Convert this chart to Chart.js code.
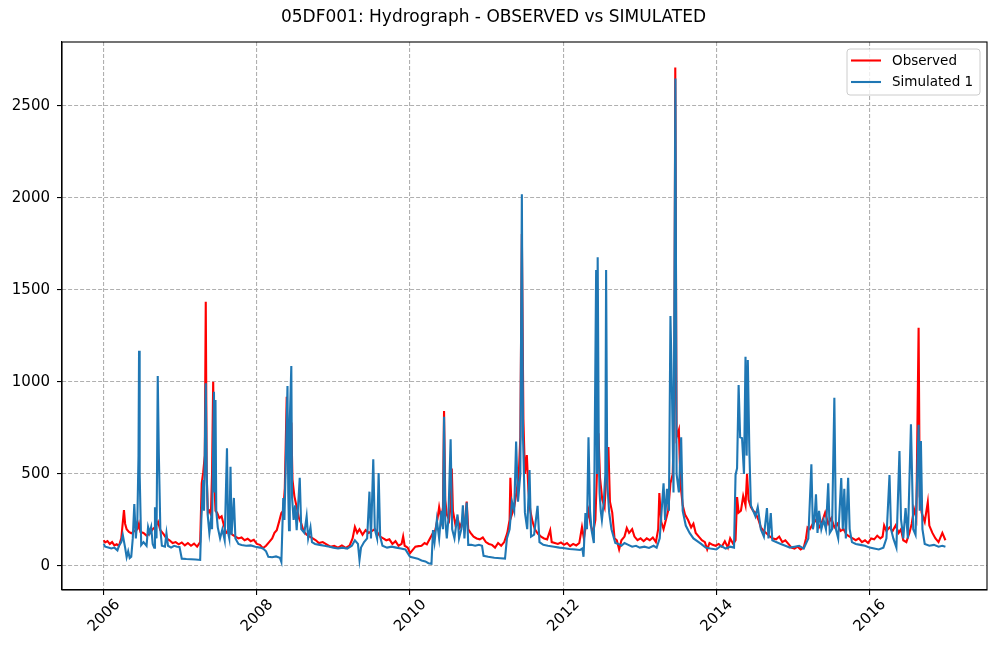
<!DOCTYPE html>
<html>
<head>
<meta charset="utf-8">
<script src="https://cdn.jsdelivr.net/npm/chart.js@4.4.1/dist/chart.umd.min.js"></script>
<style>
  html, body { margin: 0; padding: 0; background: #fff; }
  #wrap { width: 996px; height: 649px; }
</style>
</head>
<body>
<div id="wrap"><canvas id="c" width="996" height="649"></canvas></div>
<script>
// ---- Data (decimal years, flow values) ----
const chartTitle = "05DF001: Hydrograph - OBSERVED vs SIMULATED";
const seriesNames = ["Observed", "Simulated 1"];
const xTickYears = [2006, 2008, 2010, 2012, 2014, 2016];
const yTickValues = [0, 500, 1000, 1500, 2000, 2500];

const obsYears = [
2006.00,2006.02,2006.05,2006.08,2006.11,2006.14,2006.17,2006.20,2006.23,2006.265,2006.28,2006.30,2006.33,2006.36,2006.40,2006.44,2006.46,2006.48,2006.52,2006.56,2006.60,2006.64,2006.68,2006.71,2006.74,2006.78,2006.82,2006.86,2006.90,2006.94,2006.98,
2007.02,2007.06,2007.10,2007.14,2007.18,2007.22,2007.26,2007.28,2007.30,2007.32,2007.333,2007.345,2007.36,2007.38,2007.40,2007.415,2007.43,2007.445,2007.46,2007.48,2007.51,2007.54,2007.57,2007.60,2007.64,2007.68,2007.72,2007.76,2007.80,2007.84,2007.88,2007.92,2007.96,
2008.00,2008.04,2008.08,2008.12,2008.16,2008.20,2008.23,2008.26,2008.29,2008.32,2008.345,2008.365,2008.39,2008.41,2008.43,2008.45,2008.465,2008.49,2008.52,2008.55,2008.58,2008.61,2008.65,2008.69,2008.73,2008.77,2008.81,2008.86,2008.91,2008.96,
2009.01,2009.06,2009.11,2009.16,2009.21,2009.25,2009.28,2009.31,2009.34,2009.38,2009.42,2009.46,2009.50,2009.54,2009.57,2009.61,2009.65,2009.69,2009.73,2009.77,2009.81,2009.85,2009.89,2009.91,2009.93,2009.97,
2010.00,2010.03,2010.07,2010.11,2010.15,2010.19,2010.22,2010.26,2010.30,2010.33,2010.36,2010.38,2010.41,2010.43,2010.444,2010.46,2010.48,2010.51,2010.53,2010.545,2010.56,2010.59,2010.62,2010.65,2010.68,2010.71,2010.74,2010.76,2010.79,2010.83,2010.87,2010.91,2010.95,2010.99,
2011.03,2011.07,2011.11,2011.15,2011.19,2011.23,2011.27,2011.30,2011.31,2011.33,2011.36,2011.39,2011.42,2011.44,2011.46,2011.48,2011.50,2011.525,2011.545,2011.57,2011.60,2011.63,2011.67,2011.71,2011.75,2011.79,2011.83,2011.85,2011.89,2011.93,2011.97,
2012.01,2012.05,2012.09,2012.13,2012.17,2012.21,2012.245,2012.27,2012.30,2012.33,2012.36,2012.39,2012.42,2012.44,2012.46,2012.48,2012.51,2012.54,2012.57,2012.59,2012.61,2012.64,2012.67,2012.70,2012.73,2012.76,2012.80,2012.83,2012.86,2012.90,2012.93,2012.97,
2013.01,2013.05,2013.09,2013.13,2013.17,2013.21,2013.24,2013.255,2013.28,2013.31,2013.34,2013.37,2013.40,2013.43,2013.45,2013.463,2013.48,2013.51,2013.53,2013.56,2013.59,2013.63,2013.67,2013.70,2013.73,2013.77,2013.81,2013.85,2013.88,2013.91,2013.95,2013.99,
2014.03,2014.07,2014.11,2014.15,2014.18,2014.22,2014.25,2014.27,2014.29,2014.32,2014.35,2014.38,2014.40,2014.42,2014.45,2014.48,2014.51,2014.55,2014.58,2014.62,2014.66,2014.70,2014.74,2014.78,2014.82,2014.86,2014.90,2014.94,2014.98,
2015.02,2015.06,2015.10,2015.14,2015.17,2015.19,2015.22,2015.26,2015.30,2015.34,2015.38,2015.42,2015.46,2015.50,2015.54,2015.58,2015.62,2015.66,2015.70,2015.74,2015.78,2015.82,2015.86,2015.90,2015.94,2015.98,
2016.02,2016.06,2016.10,2016.14,2016.17,2016.19,2016.22,2016.26,2016.30,2016.34,2016.38,2016.41,2016.44,2016.48,2016.52,2016.55,2016.58,2016.61,2016.64,2016.655,2016.68,2016.72,2016.76,2016.78,2016.82,2016.86,2016.90,2016.95,2016.99
];
const obsFlow = [
140,128,135,120,130,112,118,110,150,304,230,200,185,178,190,200,230,185,180,165,175,200,215,240,195,175,150,140,125,130,118,
128,112,125,110,122,105,130,450,510,600,1436,500,290,300,280,500,1002,450,300,290,260,270,220,180,190,170,160,150,155,140,148,135,142,
120,115,97,110,130,150,180,195,240,288,300,424,920,500,600,780,470,380,320,260,230,190,170,160,150,140,125,130,118,105,
110,100,112,98,110,150,212,180,200,170,195,180,190,200,185,160,150,140,145,120,135,110,120,160,110,100,
70,85,105,108,110,125,118,150,180,195,260,320,250,320,842,360,280,250,330,530,300,230,260,210,240,200,350,200,180,160,150,145,155,130,
120,115,100,125,110,130,180,250,480,280,320,400,500,700,1804,800,500,603,413,300,240,200,175,160,150,145,195,130,125,120,128,
115,125,108,120,112,125,212,150,230,300,220,180,250,500,722,480,360,320,550,647,350,290,150,140,90,140,160,206,180,200,160,140,
150,135,150,140,155,130,200,397,240,200,250,300,450,500,900,2710,700,740,450,330,280,250,210,230,180,160,140,130,90,125,115,110,
120,105,135,100,150,120,140,375,290,300,380,330,500,360,320,300,290,250,210,190,175,160,150,145,160,130,140,120,100,
95,105,90,100,150,210,200,230,250,210,240,290,230,260,210,230,190,200,170,160,150,140,150,130,140,125,
150,145,165,150,160,220,190,210,190,220,180,200,140,130,180,230,310,260,1295,380,290,240,347,220,180,150,130,180,140
];

const simYears = [
2006.00,2006.02,2006.06,2006.10,2006.14,2006.18,2006.20,2006.23,2006.25,2006.28,2006.30,2006.32,2006.34,2006.36,2006.38,2006.40,2006.42,2006.44,2006.455,2006.462,2006.47,2006.49,2006.52,2006.56,2006.58,2006.60,2006.62,2006.64,2006.66,2006.67,2006.69,2006.706,2006.72,2006.74,2006.76,2006.80,2006.82,2006.84,2006.88,2006.92,2006.96,2006.99,
2007.02,2007.08,2007.14,2007.20,2007.26,2007.275,2007.30,2007.31,2007.333,2007.345,2007.36,2007.38,2007.40,2007.415,2007.44,2007.45,2007.46,2007.47,2007.49,2007.52,2007.55,2007.58,2007.61,2007.625,2007.64,2007.656,2007.67,2007.70,2007.72,2007.76,2007.80,2007.86,2007.92,2007.98,
2008.04,2008.08,2008.12,2008.15,2008.20,2008.25,2008.30,2008.32,2008.345,2008.36,2008.38,2008.40,2008.41,2008.42,2008.43,2008.45,2008.46,2008.48,2008.50,2008.52,2008.56,2008.58,2008.62,2008.65,2008.67,2008.70,2008.72,2008.76,2008.82,2008.88,2008.95,
2009.00,2009.06,2009.12,2009.18,2009.24,2009.28,2009.32,2009.34,2009.36,2009.40,2009.44,2009.47,2009.49,2009.52,2009.54,2009.57,2009.59,2009.61,2009.64,2009.70,2009.76,2009.82,2009.88,2009.94,2009.97,
2010.00,2010.05,2010.10,2010.15,2010.20,2010.24,2010.28,2010.30,2010.32,2010.35,2010.38,2010.41,2010.43,2010.444,2010.46,2010.48,2010.50,2010.53,2010.55,2010.58,2010.62,2010.64,2010.67,2010.69,2010.71,2010.74,2010.76,2010.80,2010.85,2010.90,2010.94,2010.96,
2011.02,2011.10,2011.18,2011.24,2011.265,2011.30,2011.33,2011.36,2011.385,2011.41,2011.44,2011.46,2011.475,2011.50,2011.53,2011.56,2011.58,2011.62,2011.665,2011.69,2011.74,2011.80,2011.88,2011.95,
2012.00,2012.08,2012.16,2012.22,2012.25,2012.265,2012.29,2012.31,2012.33,2012.35,2012.37,2012.40,2012.43,2012.44,2012.45,2012.465,2012.475,2012.49,2012.505,2012.53,2012.55,2012.56,2012.575,2012.60,2012.63,2012.68,2012.72,2012.76,2012.80,2012.85,2012.90,2012.95,
2013.00,2013.06,2013.12,2013.18,2013.22,2013.26,2013.31,2013.33,2013.355,2013.38,2013.40,2013.42,2013.44,2013.465,2013.48,2013.51,2013.54,2013.56,2013.60,2013.65,2013.70,2013.75,2013.80,2013.86,2013.92,
2014.00,2014.06,2014.12,2014.18,2014.23,2014.25,2014.27,2014.29,2014.31,2014.335,2014.36,2014.38,2014.395,2014.41,2014.43,2014.45,2014.48,2014.51,2014.54,2014.58,2014.62,2014.66,2014.68,2014.71,2014.73,2014.78,2014.84,2014.90,2014.96,
2015.02,2015.08,2015.14,2015.20,2015.24,2015.26,2015.28,2015.30,2015.32,2015.34,2015.37,2015.40,2015.43,2015.46,2015.48,2015.51,2015.54,2015.56,2015.59,2015.63,2015.65,2015.67,2015.69,2015.72,2015.74,2015.77,2015.82,2015.88,2015.94,
2016.00,2016.06,2016.12,2016.18,2016.22,2016.26,2016.28,2016.31,2016.35,2016.39,2016.41,2016.44,2016.47,2016.50,2016.54,2016.57,2016.60,2016.64,2016.655,2016.67,2016.69,2016.72,2016.78,2016.84,2016.90,2016.95,2016.99
];
const simFlow = [
120,105,100,95,100,85,110,130,168,100,48,80,43,50,150,337,150,250,600,1170,500,114,130,110,212,180,212,120,100,320,150,1033,613,200,110,105,178,110,100,110,105,104,
40,38,37,35,33,250,467,300,993,500,270,180,250,200,947,400,902,300,210,150,200,140,640,180,150,540,170,370,150,120,114,110,112,105,
100,95,80,50,48,52,45,22,370,250,600,978,400,195,784,1087,370,250,330,195,480,200,180,270,150,210,130,120,115,110,105,
100,95,100,95,110,140,120,33,100,130,150,404,150,580,200,150,505,160,110,100,105,100,95,90,70,
50,45,40,30,25,15,12,195,130,250,150,300,200,811,250,150,250,689,200,150,280,150,200,330,150,345,115,115,110,115,110,55,
50,45,42,40,150,200,350,300,676,350,500,2020,700,290,200,522,160,170,327,130,115,110,105,100,
98,92,90,87,95,50,288,200,700,300,195,125,1609,500,1678,600,397,300,250,350,500,1609,450,290,200,125,120,110,125,115,105,110,
100,105,98,110,100,150,450,250,420,300,1359,946,400,2650,500,400,700,300,220,180,150,135,120,100,95,
90,110,95,105,100,495,532,983,700,695,500,1137,600,1120,630,330,300,270,320,200,160,315,150,288,140,130,120,110,100,
105,110,95,150,553,200,250,390,180,300,200,250,200,450,180,200,915,200,150,478,200,420,150,480,200,130,120,115,110,
100,95,90,100,150,495,200,150,100,625,255,150,315,150,770,200,170,768,300,679,200,120,110,115,105,110,105
];

const obsColor = "#ff0000";
const simColor = "#1f77b4";

function toPoints(xs, ys) { return xs.map((x, i) => ({ x: x, y: ys[i] })); }

const FONT = "'DejaVu Sans', 'Liberation Sans', sans-serif";

const frameAndLegend = {
  id: "frameAndLegend",
  afterDraw(chart) {
    const ctx = chart.ctx;
    const a = chart.chartArea;
    ctx.save();
    ctx.strokeStyle = "#000";
    ctx.lineWidth = 1.1;
    ctx.setLineDash([]);
    ctx.strokeRect(a.left, a.top, a.right - a.left, a.bottom - a.top);
    const bw = 133, bh = 46;
    const bx = a.right - 7 - bw, by = a.top + 7;
    const r = 3;
    ctx.beginPath();
    ctx.moveTo(bx + r, by);
    ctx.lineTo(bx + bw - r, by);
    ctx.quadraticCurveTo(bx + bw, by, bx + bw, by + r);
    ctx.lineTo(bx + bw, by + bh - r);
    ctx.quadraticCurveTo(bx + bw, by + bh, bx + bw - r, by + bh);
    ctx.lineTo(bx + r, by + bh);
    ctx.quadraticCurveTo(bx, by + bh, bx, by + bh - r);
    ctx.lineTo(bx, by + r);
    ctx.quadraticCurveTo(bx, by, bx + r, by);
    ctx.closePath();
    ctx.fillStyle = "rgba(255,255,255,0.8)";
    ctx.fill();
    ctx.strokeStyle = "#cccccc";
    ctx.lineWidth = 1;
    ctx.stroke();
    const ds = chart.data.datasets;
    const rows = [by + 11.5, by + 33];
    ctx.font = "13.5px " + FONT;
    ctx.textBaseline = "middle";
    ctx.textAlign = "left";
    for (let i = 0; i < ds.length; i++) {
      ctx.beginPath();
      ctx.strokeStyle = ds[i].borderColor;
      ctx.lineWidth = 2.1;
      ctx.moveTo(bx + 4, rows[i]);
      ctx.lineTo(bx + 34, rows[i]);
      ctx.stroke();
      ctx.fillStyle = "#000";
      ctx.fillText(ds[i].label, bx + 45, rows[i] + 0.5);
    }
    ctx.restore();
  }
};

const gridOpts = { color: "#b0b0b0", lineWidth: 1.1, drawTicks: true,
  tickLength: 5, tickColor: "#000", tickWidth: 1.1, tickBorderDash: [] };
const borderOpts = { display: true, color: "#000", width: 1.1, dash: [4, 2] };

new Chart(document.getElementById("c"), {
  type: "line",
  data: {
    datasets: [
      { label: seriesNames[0], data: toPoints(obsYears, obsFlow), borderColor: obsColor, backgroundColor: obsColor,
        borderWidth: 2.1, pointRadius: 0, tension: 0, fill: false, order: 2 },
      { label: seriesNames[1], data: toPoints(simYears, simFlow), borderColor: simColor, backgroundColor: simColor,
        borderWidth: 2.1, pointRadius: 0, tension: 0, fill: false, order: 1 }
    ]
  },
  options: {
    responsive: false,
    animation: false,
    devicePixelRatio: 1,
    layout: { padding: { left: 0, right: 9, top: 0, bottom: 0 } },
    plugins: {
      legend: { display: false },
      tooltip: { enabled: false },
      title: {
        display: true, text: chartTitle, color: "#000",
        font: { family: FONT, size: 17, weight: "normal" },
        padding: { top: 7, bottom: 14.6 }
      }
    },
    scales: {
      x: {
        type: "linear",
        min: 2005.456, max: 2017.533,
        afterBuildTicks: (s) => { s.ticks = xTickYears.map(v => ({ value: v })); },
        afterFit: (s) => { s.height = 59; },
        ticks: {
          color: "#000", font: { family: FONT, size: 15 },
          minRotation: 45, maxRotation: 45, autoSkip: false,
          padding: 1, labelOffset: 14,
          callback: (v) => String(v)
        },
        grid: gridOpts,
        border: borderOpts
      },
      y: {
        type: "linear",
        min: -130.4, max: 2848,
        afterBuildTicks: (s) => { s.ticks = yTickValues.map(v => ({ value: v })); },
        afterFit: (s) => { s.width = 62; },
        ticks: {
          color: "#000", font: { family: FONT, size: 15 }, padding: 7,
          callback: (v) => String(v)
        },
        grid: gridOpts,
        border: borderOpts
      }
    }
  },
  plugins: [frameAndLegend]
});
</script>
</body>
</html>
